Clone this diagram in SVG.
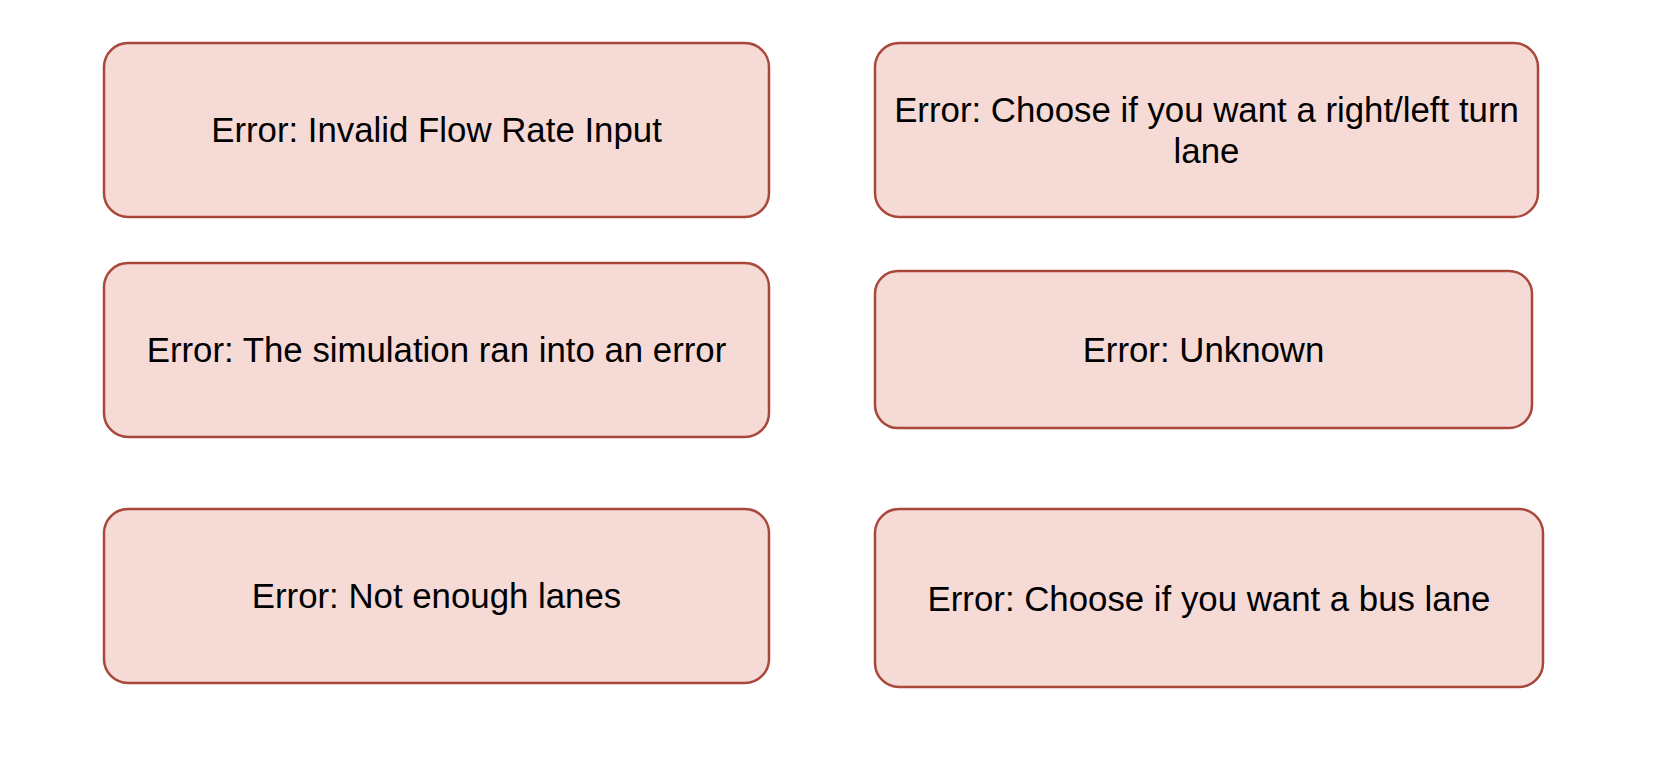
<svg xmlns="http://www.w3.org/2000/svg" width="1668" height="778" viewBox="0 0 1668 778">
<style>
.box{fill:#f5dad6;stroke:#a9473a;stroke-width:2.5}
.lbl{font-family:"Liberation Sans",Arial,sans-serif;font-size:34.8px;fill:#000;text-anchor:middle}
</style>
<rect width="1668" height="778" fill="#fff"/>
<g id="n1"><rect class="box" x="104" y="43" width="665" height="174" rx="24"/><text class="lbl" x="436.5" y="142">Error: Invalid Flow Rate Input</text></g>
<g id="n2"><rect class="box" x="875" y="43" width="663" height="174" rx="24"/><text class="lbl" x="1206.5" y="122">Error: Choose if you want a right/left turn</text><text class="lbl" x="1206.5" y="163">lane</text></g>
<g id="n3"><rect class="box" x="104" y="263" width="665" height="174" rx="24"/><text class="lbl" x="436.5" y="362">Error: The simulation ran into an error</text></g>
<g id="n4"><rect class="box" x="875" y="271" width="657" height="157" rx="23"/><text class="lbl" x="1203.5" y="362">Error: Unknown</text></g>
<g id="n5"><rect class="box" x="104" y="509" width="665" height="174" rx="24"/><text class="lbl" x="436.5" y="608">Error: Not enough lanes</text></g>
<g id="n6"><rect class="box" x="875" y="509" width="668" height="178" rx="24"/><text class="lbl" x="1209" y="611">Error: Choose if you want a bus lane</text></g>
<g id="connectors"></g>
</svg>
